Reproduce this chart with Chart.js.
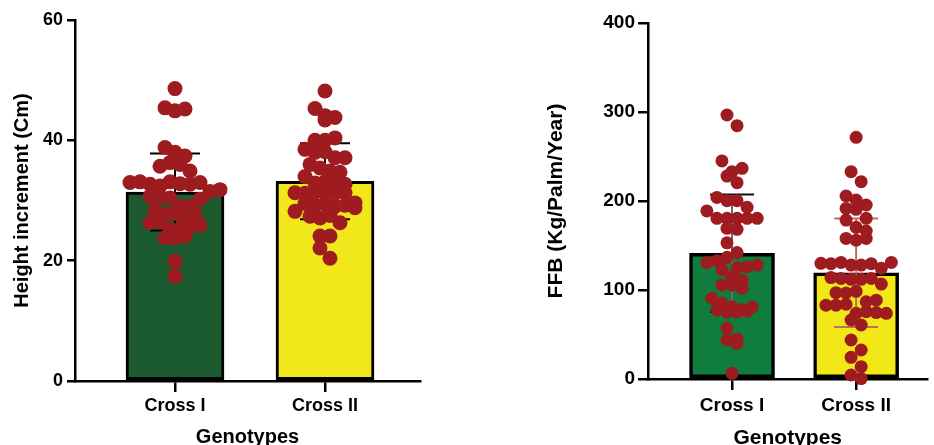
<!DOCTYPE html>
<html>
<head>
<meta charset="utf-8">
<title>Height increment and FFB by genotype</title>
<script src="https://cdn.jsdelivr.net/npm/chart.js@4.4.1/dist/chart.umd.min.js"></script>
<style>
  html, body { margin: 0; padding: 0; background: #fff; }
  #wrap { position: relative; width: 934px; height: 445px; overflow: hidden; }
  canvas { position: absolute; top: 0; }
  #heightChart { left: 0; }
  #ffbChart { left: 470px; }
</style>
</head>
<body>
<div id="wrap">
  <canvas id="heightChart" width="440" height="445"></canvas>
  <canvas id="ffbChart" width="464" height="445"></canvas>
</div>
<script>
const genotypes = ['Cross I', 'Cross II'];

// height increment (cm): means, SD and the individual palms
const heightMean = [31.4, 33.2];
const heightSd = [6.4, 6.3];
const heightTicks = [0, 20, 40, 60];
const heightCross1 = [
  48.6,
  45.4, 44.9, 45.2,
  38.8, 38.0, 37.4,
  35.7, 36.3, 36.0, 34.9,
  33.0, 33.1, 32.7, 32.4, 33.1, 32.8, 32.7, 33.0,
  30.7, 31.5, 30.7, 30.4, 31.8,
  29.0, 29.0, 30.2, 28.4,
  27.7, 27.9, 26.8, 26.3, 26.5, 27.7,
  25.2, 25.3, 25.7, 25.9,
  23.8, 23.8, 24.1,
  19.9, 17.4
];
const heightCross2 = [
  48.2,
  45.3, 44.1, 43.8, 43.4,
  40.0, 40.0, 40.4,
  38.5, 38.0, 38.1,
  37.1, 37.1,
  36.0, 35.4,
  34.9, 34.7, 34.0,
  32.9, 33.1, 33.0, 32.7,
  31.3, 31.2, 31.4, 31.3, 31.2, 31.3,
  29.6, 28.2, 29.5, 29.3, 29.4, 29.0, 29.2, 28.8,
  27.4, 27.1, 27.5, 26.3,
  24.1, 24.1,
  22.1,
  20.4
];

// fresh fruit bunches (kg/palm/year)
const ffbMean = [141.2, 119.4];
const ffbSd = [66, 61];
const ffbTicks = [0, 100, 200, 300, 400];
const ffbCross1 = [
  296.6, 284.6,
  245.0, 233.0, 236.7, 228.0,
  220.6,
  204.0, 200.4, 200.4,
  193.0, 188.8,
  180.5, 180.5, 180.5, 180.5, 180.5,
  169.3, 168.2,
  153.0,
  142.0, 131.0, 133.0, 136.7,
  123.0, 125.0, 126.0, 128.0,
  115.0, 111.0,
  105.6, 105.6, 102.0,
  90.7,
  85.0, 77.5, 81.0, 75.0, 75.5, 76.0, 78.0, 81.0,
  57.0,
  43.8, 45.0, 40.0,
  6.4
];
const ffbCross2 = [
  271.5,
  233.0, 221.7,
  205.6, 201.0, 195.5,
  191.7, 190.6, 180.5, 178.6,
  170.4, 166.3,
  158.0, 156.0, 158.0,
  130.0, 129.6, 131.0, 128.0, 128.0, 129.6, 124.4, 131.0,
  114.0, 113.0, 112.0, 112.0, 113.0, 106.7,
  97.0, 96.6, 98.5,
  83.0, 83.0, 84.0, 86.8, 88.6,
  73.8, 75.6, 74.6, 73.8,
  66.3, 60.7,
  43.8, 32.6, 24.4, 13.8, 4.5, 0.5
];

const FONT = '"Liberation Sans", Arial, Helvetica, sans-serif';
const DOT = '#9e1c20';

// mean +/- SD whiskers, drawn right after the bars so the dots sit on top
const errorBars = {
  id: 'errorBars',
  afterDatasetDraw(chart, args, opts) {
    if (args.index !== 1) return;
    const { ctx, scales: { x, y } } = chart;
    opts.mean.forEach((m, i) => {
      const cx = x.getPixelForValue(i);
      const top = y.getPixelForValue(m + opts.sd[i]);
      const bot = y.getPixelForValue(m - opts.sd[i]);
      ctx.save();
      ctx.lineWidth = opts.width;
      ctx.strokeStyle = opts.lineColor[i];
      ctx.beginPath();
      ctx.moveTo(cx, top);
      ctx.lineTo(cx, bot);
      ctx.stroke();
      ctx.strokeStyle = opts.capColor[i];
      ctx.beginPath();
      ctx.moveTo(cx - opts.cap, top); ctx.lineTo(cx + opts.cap, top);
      ctx.moveTo(cx - opts.cap, bot); ctx.lineTo(cx + opts.cap, bot);
      ctx.stroke();
      ctx.restore();
    });
  }
};

// Prism-style scatter: bin points into rows by value, spread each row around the centre
function swarmOffsets(values, pxPerUnit, rowPx, stepPx) {
  const order = values.map((v, i) => i).sort((a, b) => values[b] - values[a]);
  const offs = new Array(values.length).fill(0);
  let row = [];
  let start = null;
  const flush = () => {
    row.sort((a, b) => a - b);
    row.forEach((idx, k) => { offs[idx] = (k - (row.length - 1) / 2) * stepPx; });
    row = [];
  };
  order.forEach(i => {
    if (start === null || (start - values[i]) * pxPerUnit >= rowPx) { flush(); start = values[i]; }
    row.push(i);
  });
  flush();
  return offs;
}

function makePanel(id, p) {
  const font = size => ({ family: FONT, size, weight: 'bold', lineHeight: 1.2 });
  const chart = new Chart(document.getElementById(id), {
    type: 'bar',
    data: {
      datasets: [
        {
          type: 'scatter',
          data: [],
          order: 0,
          backgroundColor: DOT,
          borderColor: DOT,
          borderWidth: 0,
          pointRadius: p.dotRadius,
          pointHoverRadius: p.dotRadius,
          clip: false
        },
        {
          type: 'bar',
          data: p.mean.map((m, i) => ({ x: i, y: m })),
          order: 1,
          backgroundColor: p.barColors,
          borderColor: '#000',
          borderWidth: p.barBorder,
          borderSkipped: false,
          barThickness: p.barWidth
        }
      ]
    },
    options: {
      responsive: false,
      animation: false,
      events: [],
      layout: { padding: p.padding },
      plugins: {
        legend: { display: false },
        tooltip: { enabled: false },
        errorBars: p.errors
      },
      scales: {
        x: {
          type: 'linear',
          min: p.xRange[0],
          max: p.xRange[1],
          offset: false,
          afterBuildTicks: s => { s.ticks = genotypes.map((g, i) => ({ value: i })); },
          afterFit: s => { s.height = p.xHeight; },
          ticks: {
            callback: v => genotypes[Math.round(v)],
            color: '#000',
            font: font(p.tickSize),
            padding: p.xTickPad,
            maxRotation: 0,
            autoSkip: false
          },
          grid: { offset: false, drawOnChartArea: false, drawTicks: true, tickLength: 11, color: '#000', lineWidth: 2.5 },
          border: { display: true, color: '#000', width: 2.5 },
          title: { display: true, text: 'Genotypes', color: '#000', font: font(p.titleSize), padding: { top: 0, bottom: p.xTitlePad } }
        },
        y: {
          min: 0,
          max: p.ticks[p.ticks.length - 1],
          afterBuildTicks: s => { s.ticks = p.ticks.map(v => ({ value: v })); },
          afterFit: s => { s.width = p.yWidth; },
          ticks: { color: '#000', font: font(p.yTickSize), padding: p.yTickPad },
          grid: { drawOnChartArea: false, drawTicks: true, tickLength: p.yTickLen, color: '#000', lineWidth: 2.5 },
          border: { display: true, color: '#000', width: 2.5 },
          title: { display: true, text: p.yTitle, color: '#000', font: font(p.titleSize), padding: { top: p.yTitlePad, bottom: 0 } }
        }
      }
    },
    plugins: [errorBars]
  });

  // place the dots once the scales know their pixel sizes
  const xs = chart.scales.x, ys = chart.scales.y;
  const pxX = xs.getPixelForValue(1) - xs.getPixelForValue(0);
  const pxY = ys.getPixelForValue(0) - ys.getPixelForValue(1);
  const pts = [];
  p.groups.forEach((vals, g) => {
    const offs = swarmOffsets(vals, pxY, p.rowPx, p.stepPx);
    vals.forEach((v, i) => pts.push({ x: g + offs[i] / pxX, y: v }));
  });
  chart.data.datasets[0].data = pts;
  chart.update('none');
  return chart;
}

makePanel('heightChart', {
  mean: heightMean,
  groups: [heightCross1, heightCross2],
  ticks: heightTicks,
  yTitle: 'Height increment (Cm)',
  barColors: ['#1b5b2f', '#f2e71b'],
  barBorder: 3,
  barWidth: 98,
  dotRadius: 7.5,
  rowPx: 11,
  stepPx: 10,
  padding: { left: 0, top: 20, right: 20, bottom: 0 },
  xRange: [-0.6667, 1.6333],
  xHeight: 64,
  yWidth: 75,
  tickSize: 18,
  yTickSize: 18,
  titleSize: 20,
  xTickPad: 3,
  yTickPad: 4,
  yTickLen: 8,
  xTitlePad: -4,
  yTitlePad: 10,
  errors: {
    mean: heightMean,
    sd: heightSd,
    width: 2,
    cap: 25,
    lineColor: ['#000', '#000'],
    capColor: ['#000', '#000']
  }
});

makePanel('ffbChart', {
  mean: ffbMean,
  groups: [ffbCross1, ffbCross2],
  ticks: ffbTicks,
  yTitle: 'FFB (Kg/Palm/Year)',
  barColors: ['#107c3d', '#f3e817'],
  barBorder: 3.5,
  barWidth: 85,
  dotRadius: 6.5,
  rowPx: 11.5,
  stepPx: 10.3,
  padding: { left: 0, top: 23, right: 0, bottom: 0 },
  xRange: [-0.677, 1.575],
  xHeight: 66,
  yWidth: 178,
  tickSize: 19,
  yTickSize: 19,
  titleSize: 21,
  xTickPad: 4,
  yTickPad: 3,
  yTickLen: 10,
  xTitlePad: -5.6,
  yTitlePad: 73.4,
  errors: {
    mean: ffbMean,
    sd: ffbSd,
    width: 2,
    cap: 22,
    lineColor: ['#6b6b6b', '#be6e60'],
    capColor: ['#111', '#be6e60']
  }
});
</script>
</body>
</html>
